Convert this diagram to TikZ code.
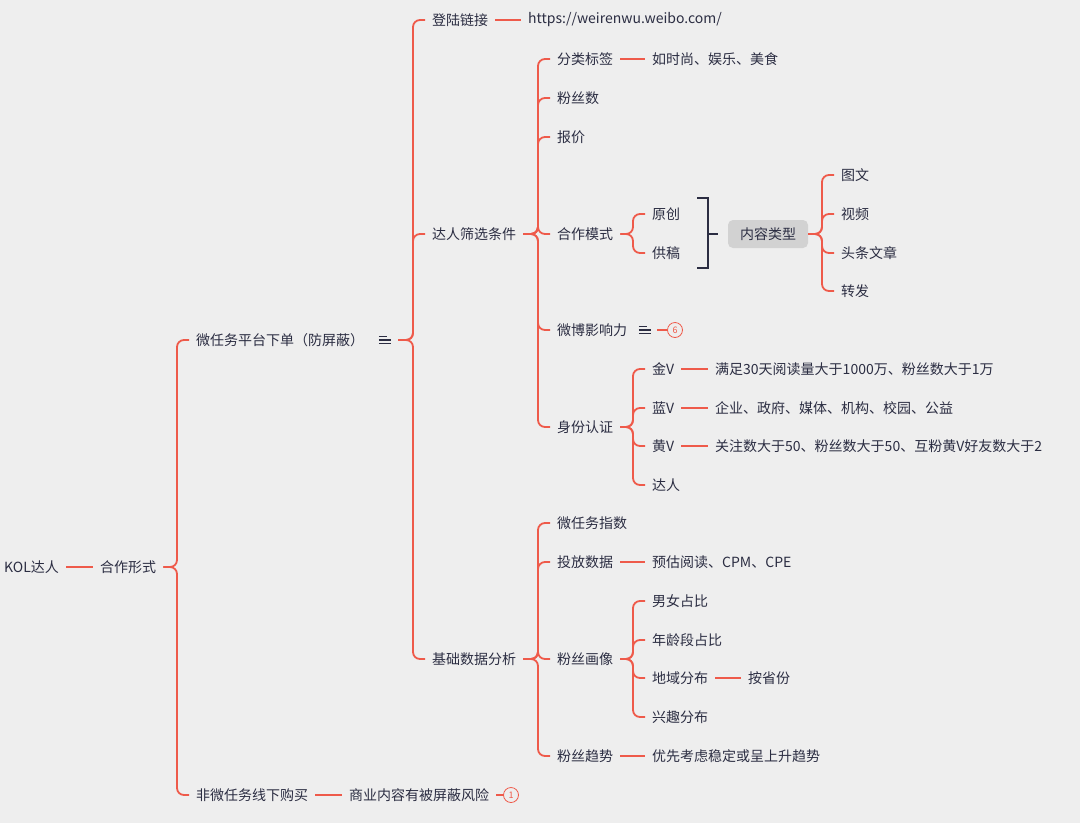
\documentclass[tikz,border=0pt]{standalone}
\usepackage{fontspec}
\setmainfont{Noto Sans CJK SC}
\usetikzlibrary{calc}
\definecolor{bg}{HTML}{EEEEEE}
\definecolor{tx}{HTML}{2B2D42}
\definecolor{ln}{HTML}{EE5A4A}
\tikzset{
 t/.style={anchor=west,inner sep=0pt,text=tx,font=\fontsize{14}{16}\selectfont},
 br/.style={draw=ln,line width=1.8pt,rounded corners=7pt},
 badge/.style={circle,draw=ln,line width=0.8pt,inner sep=0pt,minimum size=15pt,text=ln,font=\fontsize{9}{10}\selectfont},
 ico/.style={inner sep=0pt,minimum width=12pt,minimum height=10pt}
}
\newcommand{\brn}[3]{\draw[br] let \p1=(#1.east) in (\x1+7pt,\y1) -- (#3,\y1) |- ([xshift=-7pt]#2.west);}
\newcommand{\lnk}[2]{\draw[br] ([xshift=7pt]#1.east) -- ([xshift=-7pt]#2.west);}
\newcommand{\eqico}[2]{\node[ico] (#1) at (#2) {};
 \draw[tx,line width=1.2pt] ([yshift=-3.5pt]#1.west)--([yshift=-3.5pt]#1.east) (#1.west)--(#1.east) ([yshift=3.5pt]#1.west)--([yshift=3.5pt,xshift=-4pt]#1.east);}
\begin{document}
\begin{tikzpicture}[x=1pt,y=-1pt]
\fill[bg] (0,0) rectangle (1080,823);
\useasboundingbox (0,0) rectangle (1080,823);
\node[t] (kol) at (4,567) {KOL达人};
\node[t] (hz) at (100,567) {合作形式};
\node[t] (wrw) at (196,340) {微任务平台下单（防屏蔽）};
\node[t] (fw) at (196,795) {非微任务线下购买};
\node[t] (sy) at (349,795) {商业内容有被屏蔽风险};
\node[badge] (b1) at (511,795) {1};
\eqico{i1}{385,340}
\node[t] (dl) at (432,20) {登陆链接};
\node[t] (url) at (528,20) {https://weirenwu.weibo.com/};
\node[t] (dr) at (432,234) {达人筛选条件};
\node[t] (jc) at (432,659) {基础数据分析};
\node[t] (fl) at (557,59) {分类标签};
\node[t] (rs) at (652,59) {如时尚、娱乐、美食};
\node[t] (fs) at (557,98) {粉丝数};
\node[t] (bj) at (557,137) {报价};
\node[t] (hm) at (557,234) {合作模式};
\node[t] (yc) at (652,214) {原创};
\node[t] (gg) at (652,253) {供稿};
\node[fill=gray!35,rounded corners=5pt,text=tx,font=\fontsize{14}{16}\selectfont,minimum width=80pt,minimum height=28pt,inner sep=0pt] (nr) at (768,234) {内容类型};
\node[t] (tw) at (841,175) {图文};
\node[t] (sp) at (841,214) {视频};
\node[t] (tt) at (841,253) {头条文章};
\node[t] (zf) at (841,291) {转发};
\node[t] (wb) at (557,330) {微博影响力};
\eqico{i2}{645,330}
\node[badge] (b6) at (675,330) {6};
\node[t] (sf) at (557,427) {身份认证};
\node[t] (jv) at (652,369) {金V};
\node[t] (jvt) at (715,369) {满足30天阅读量大于1000万、粉丝数大于1万};
\node[t] (lv) at (652,408) {蓝V};
\node[t] (lvt) at (715,408) {企业、政府、媒体、机构、校园、公益};
\node[t] (hv) at (652,446) {黄V};
\node[t] (hvt) at (715,446) {关注数大于50、粉丝数大于50、互粉黄V好友数大于2};
\node[t] (dar) at (652,485) {达人};
\node[t] (zs) at (557,523) {微任务指数};
\node[t] (tf) at (557,562) {投放数据};
\node[t] (tft) at (652,562) {预估阅读、CPM、CPE};
\node[t] (hx) at (557,659) {粉丝画像};
\node[t] (nn) at (652,601) {男女占比};
\node[t] (nl) at (652,640) {年龄段占比};
\node[t] (dy) at (652,678) {地域分布};
\node[t] (asf) at (748,678) {按省份};
\node[t] (xq) at (652,717) {兴趣分布};
\node[t] (qs) at (557,756) {粉丝趋势};
\node[t] (qst) at (652,756) {优先考虑稳定或呈上升趋势};
% connectors
\lnk{kol}{hz}
\brn{hz}{wrw}{177} \brn{hz}{fw}{177}
\lnk{fw}{sy}
\draw[br] ([xshift=7pt]sy.east) -- (b1.west);
\brn{i1}{dl}{413} \brn{i1}{dr}{413} \brn{i1}{jc}{413}
\lnk{dl}{url}
\foreach \c in {fl,fs,bj,hm,wb,sf} {\brn{dr}{\c}{538}}
\lnk{fl}{rs}
\brn{hm}{yc}{633} \brn{hm}{gg}{633}
\draw[tx,line width=1.8pt] (697,198) -- (708,198) -- (708,268) -- (697,268) (708,234) -- (718,234);
\foreach \c in {tw,sp,tt,zf} {\draw[br] (nr.east) -- (822,234) |- ([xshift=-7pt]\c.west);}
\draw[br] ([xshift=6pt]i2.east) -- (b6.west);
\foreach \c in {jv,lv,hv,dar} {\brn{sf}{\c}{633}}
\lnk{jv}{jvt} \lnk{lv}{lvt} \lnk{hv}{hvt}
\foreach \c in {zs,tf,hx,qs} {\brn{jc}{\c}{538}}
\lnk{tf}{tft}
\foreach \c in {nn,nl,dy,xq} {\brn{hx}{\c}{633}}
\lnk{dy}{asf}
\lnk{qs}{qst}
\end{tikzpicture}
\end{document}
